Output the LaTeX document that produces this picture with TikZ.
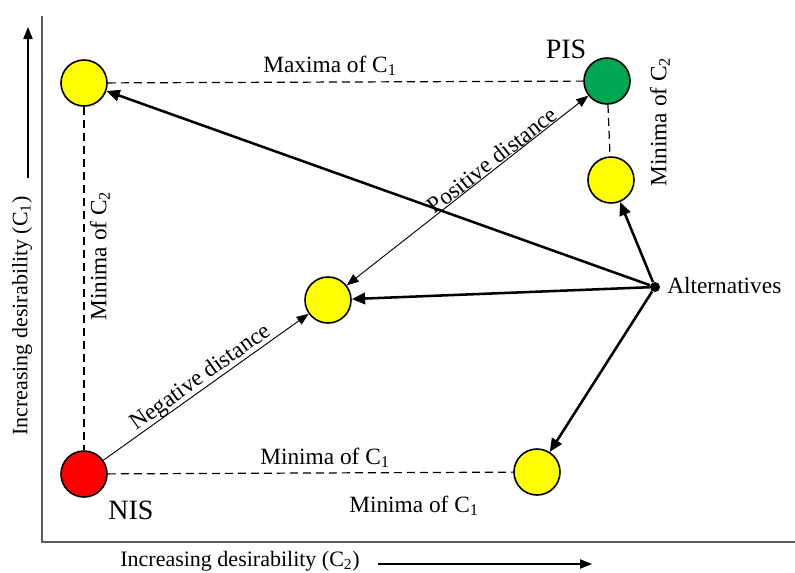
\documentclass[tikz,border=0pt]{standalone}
\usepackage{fontspec}
\setmainfont{Liberation Serif}
\usetikzlibrary{arrows.meta}
\definecolor{pisgreen}{RGB}{0,166,81}
\definecolor{nisred}{RGB}{255,0,0}
\definecolor{altyellow}{RGB}{255,255,0}
\definecolor{axisgray}{RGB}{90,90,90}
\tikzset{
  crit/.style={circle, draw, line width=1.2pt, minimum size=34.5pt, inner sep=0pt},
  altdot/.style={circle, fill, inner sep=0pt, minimum size=7.5pt},
  dashline/.style={line width=0.9pt, dash pattern=on 6pt off 3.75pt},
  altarrow/.style={line width=1.9pt, -{Triangle[length=10pt,width=8.5pt]}},
  distarrow/.style={line width=0.7pt, -{Triangle[length=9pt,width=7pt]}},
  lbl/.style={inner sep=0.75pt, font=\fontsize{17.5}{20}\selectfont},
  axlbl/.style={inner sep=0.75pt, font=\fontsize{16.5}{19}\selectfont},
  isl/.style={inner sep=0.75pt, font=\fontsize{21}{24}\selectfont},
}
\begin{document}
\begin{tikzpicture}[x=0.75pt,y=0.75pt,yscale=-1,xscale=1]
\path[use as bounding box] (0,0) rectangle (795,572);

%Shape: Axis 2D
\draw [color=axisgray, line width=1.1pt] (42,16) -- (42,542) -- (795,542) ;
%Straight Lines
\draw [line width=0.8pt, -{Triangle[length=9pt,width=7pt]}] (28,178) -- (28,27) ;
%Straight Lines
\draw [line width=0.8pt, -{Triangle[length=9pt,width=7pt]}] (378,564) -- (592,564) ;

%Shape: Circle
\node [crit, fill=altyellow] (maxc) at (84,83) {};
%Shape: Circle
\node [crit, fill=pisgreen] (pis) at (607,81) {};
%Shape: Circle
\node [crit, fill=altyellow] (minctwo) at (611,180) {};
%Shape: Circle
\node [crit, fill=altyellow] (mid) at (328,300) {};
%Shape: Circle
\node [crit, fill=nisred] (nis) at (84,474) {};
%Shape: Circle
\node [crit, fill=altyellow] (mincone) at (537,472) {};
%Shape: Dot
\node [altdot] (alt) at (655,287) {};

%Straight Lines
\draw [dashline] (maxc) -- (pis) ;
\draw [dashline] (maxc) -- (nis) ;
\draw [dashline] (pis) -- (minctwo) ;
\draw [dashline] (nis) -- (mincone) ;

%Straight Lines
\draw [altarrow] (alt) -- (maxc) ;
\draw [altarrow] (alt) -- (mid) ;
\draw [altarrow] (alt) -- (minctwo) ;
\draw [altarrow] (alt) -- (mincone) ;

%Straight Lines
\draw [distarrow] (nis) -- (mid) ;
\draw [distarrow, {Triangle[length=9pt,width=7pt]}-{Triangle[length=9pt,width=7pt]}] (mid) -- (pis) ;

% Text Node
\node [lbl, rotate=35.5] (negd) at (201,378) {Negative distance};
% Text Node
\node [lbl, rotate=38] (posd) at (492,160) {Positive distance};
% Text Node
\node [lbl] (lmaxc) at (330,66) {Maxima of C\textsubscript{1}};
% Text Node
\node [lbl, rotate=90] (lminl) at (100,256) {Minima of C\textsubscript{2}};
% Text Node
\node [lbl, rotate=90] (lminr) at (660,122) {Minima of C\textsubscript{2}};
% Text Node
\node [lbl] (lminb) at (325,458) {Minima of C\textsubscript{1}};
% Text Node
\node [lbl] (lminbb) at (414,506) {Minima of C\textsubscript{1}};
% Text Node
\node [isl] (lpis) at (566,49) {PIS};
% Text Node
\node [isl] (lnis) at (131,510) {NIS};
% Text Node
\node [lbl, anchor=west] (lalt) at (666,286) {Alternatives};
% Text Node
\node [axlbl, rotate=90] (lyax) at (22,316) {Increasing desirability (C\textsubscript{1})};
% Text Node
\node [axlbl] (lxax) at (240,561) {Increasing desirability (C\textsubscript{2})};

\end{tikzpicture}
\end{document}
